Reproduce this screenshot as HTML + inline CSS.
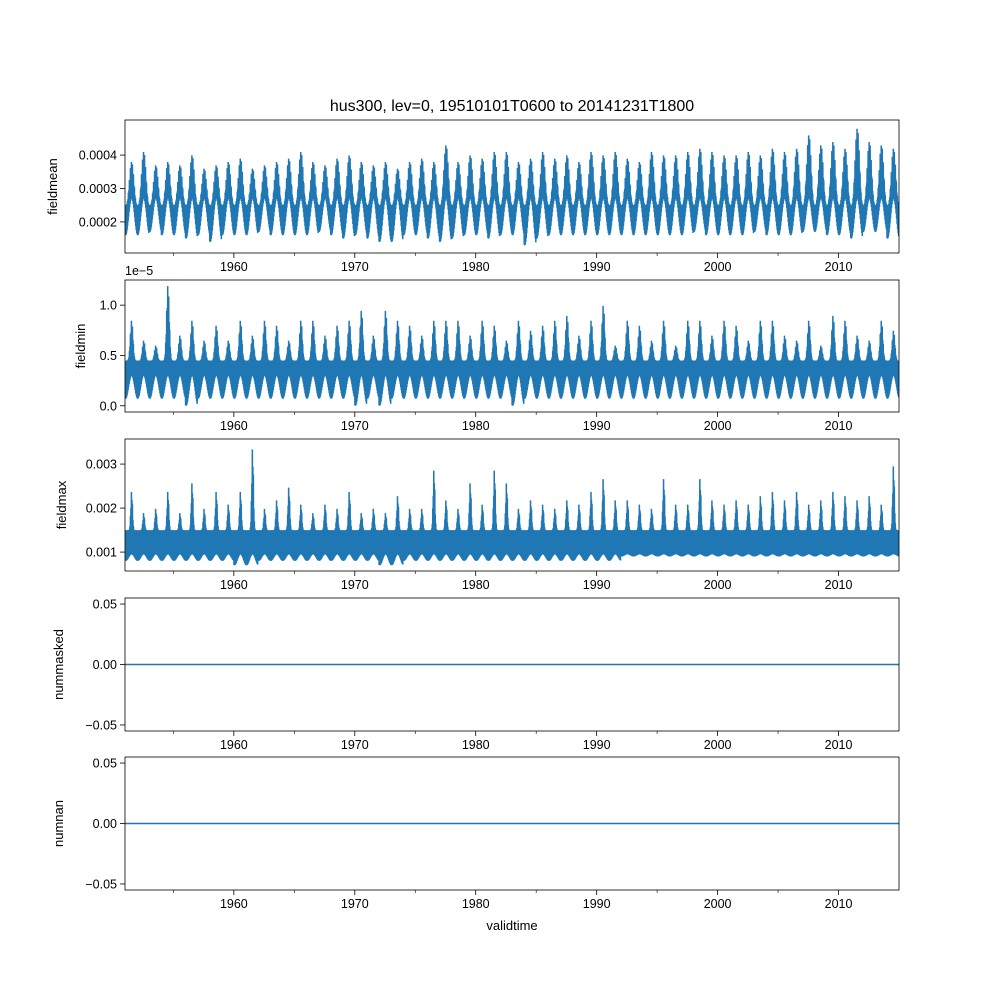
<!DOCTYPE html>
<html><head><meta charset="utf-8"><style>
body{margin:0;background:#fff;}
svg{display:block;font-family:"Liberation Sans","DejaVu Sans",sans-serif;}
</style></head><body>
<svg id="fig" width="1000" height="1000" viewBox="0 0 1000 1000">
<text x="512" y="111" font-size="16" text-anchor="middle">hus300, lev=0, 19510101T0600 to 20141231T1800</text>
<text x="512" y="930" font-size="13" text-anchor="middle">validtime</text>
</svg>
<script>
// ---- data ----
const years = [];
for (let y = 1951; y <= 2014; y++) years.push(y);
const xTicks = [1960, 1970, 1980, 1990, 2000, 2010];
const xMinorTicks = [1955, 1965, 1975, 1985, 1995, 2005];

const meanPeak = [0.00038,0.00041,0.00037,0.00038,0.00037,0.00040,0.00036,0.00037,0.00038,0.00039,0.00036,0.00037,0.00038,0.00039,0.00041,0.00038,0.00037,0.00039,0.00040,0.00038,0.00037,0.00038,0.00036,0.00038,0.00039,0.00038,0.00043,0.00038,0.00040,0.00039,0.00041,0.00041,0.00038,0.00039,0.00041,0.00039,0.00040,0.00038,0.00041,0.00040,0.00041,0.00039,0.00038,0.00041,0.00040,0.00040,0.00041,0.00042,0.00041,0.00040,0.00040,0.00041,0.00040,0.00042,0.00041,0.00042,0.00046,0.00043,0.00044,0.00042,0.00048,0.00044,0.00043,0.00042];
const meanTrough = [0.00016,0.00016,0.00017,0.00016,0.00016,0.00015,0.00016,0.00014,0.00016,0.00016,0.00016,0.00017,0.00016,0.00016,0.00016,0.00016,0.00017,0.00016,0.00015,0.00016,0.00015,0.00014,0.00014,0.00016,0.00016,0.00015,0.00014,0.00015,0.00016,0.00016,0.00015,0.00016,0.00016,0.00013,0.00015,0.00016,0.00016,0.00016,0.00016,0.00016,0.00016,0.00016,0.00016,0.00016,0.00016,0.00016,0.00016,0.00017,0.00016,0.00016,0.00016,0.00016,0.00017,0.00016,0.00016,0.00016,0.00017,0.00017,0.00016,0.00016,0.00015,0.00017,0.00017,0.00015];
const meanBase = [0.00027, 0.00025];

const minPeak = [0.85,0.65,0.6,1.2,0.7,0.85,0.65,0.8,0.65,0.85,0.7,0.85,0.8,0.65,0.85,0.85,0.7,0.8,0.85,0.95,0.7,0.95,0.85,0.8,0.7,0.85,0.85,0.85,0.7,0.85,0.8,0.65,0.85,0.75,0.8,0.85,0.9,0.7,0.85,1.0,0.6,0.85,0.8,0.65,0.85,0.6,0.85,0.85,0.7,0.85,0.8,0.65,0.85,0.85,0.7,0.65,0.85,0.6,0.9,0.85,0.7,0.65,0.85,0.75];
const minTrough = [0.07,0.07,0.07,0.07,0.07,0.0,0.07,0.07,0.07,0.07,0.07,0.07,0.07,0.07,0.07,0.07,0.07,0.07,0.07,0.0,0.07,0.0,0.07,0.07,0.07,0.07,0.07,0.07,0.07,0.07,0.07,0.07,0.0,0.07,0.07,0.07,0.07,0.07,0.07,0.07,0.07,0.07,0.07,0.07,0.07,0.07,0.07,0.07,0.07,0.07,0.07,0.07,0.07,0.07,0.07,0.07,0.07,0.07,0.07,0.07,0.07,0.07,0.07,0.07];
const minBase = [0.3, 0.45];

const maxPeak = [0.0024,0.0019,0.0020,0.0024,0.0019,0.0026,0.0020,0.0024,0.0021,0.0024,0.0034,0.0020,0.0022,0.0025,0.0021,0.0019,0.0021,0.0020,0.0024,0.0019,0.0020,0.0019,0.0023,0.0020,0.0020,0.0029,0.0022,0.0020,0.0026,0.0021,0.0029,0.0026,0.0020,0.0022,0.0021,0.0020,0.0022,0.0021,0.0024,0.0027,0.0022,0.0022,0.0021,0.0020,0.0027,0.0021,0.0021,0.0027,0.0022,0.0021,0.0022,0.0021,0.0023,0.0024,0.0022,0.0024,0.0021,0.0022,0.0024,0.0023,0.0022,0.0023,0.0021,0.0030];
const maxTrough = [0.0008,0.0008,0.0008,0.0008,0.0008,0.0008,0.0008,0.0008,0.0008,0.0007,0.0007,0.0008,0.0008,0.0008,0.0008,0.0008,0.0008,0.0008,0.0008,0.0008,0.0008,0.0007,0.0007,0.0008,0.0008,0.0008,0.0008,0.0008,0.0008,0.0008,0.0008,0.0008,0.0008,0.0008,0.0008,0.0008,0.0008,0.0008,0.0008,0.0008,0.0008,0.0009,0.0009,0.0009,0.0009,0.0009,0.0009,0.0009,0.0009,0.0009,0.0009,0.0009,0.0009,0.0009,0.0009,0.0009,0.0009,0.0009,0.0009,0.0009,0.0009,0.0009,0.0009,0.0009];
const maxBase = [0.00095, 0.0015];

const maskedValues = [0, 0];
const nanValues = [0, 0];

// ---- layout ----
const NS = "http://www.w3.org/2000/svg";
const svg = document.getElementById('fig');
const L = 125, R = 899, X0 = 1951, X1 = 2015;
const xs = v => L + (v - X0) / (X1 - X0) * (R - L);
const C = '#1f77b4';

function el(tag, attrs, parent) {
  const e = document.createElementNS(NS, tag);
  for (const k in attrs) e.setAttribute(k, attrs[k]);
  (parent || svg).appendChild(e);
  return e;
}

const panels = [
  {name:'fieldmean', top:120, bot:253, ymin:0.000107, ymax:0.000505, ticks:[0.0002,0.0003,0.0004], fmt:v=>v.toFixed(4), peak:meanPeak, trough:meanTrough, base:meanBase, sharp:1.5, lx:57},
  {name:'fieldmin', top:280, bot:412, ymin:-0.062, ymax:1.25, ticks:[0,0.5,1.0], fmt:v=>v.toFixed(1), peak:minPeak, trough:minTrough, base:minBase, sharp:4, offset:'1e\u22125', lx:85},
  {name:'fieldmax', top:439, bot:571, ymin:0.00057, ymax:0.00357, ticks:[0.001,0.002,0.003], fmt:v=>v.toFixed(3), peak:maxPeak, trough:maxTrough, base:maxBase, sharp:10, lx:66},
  {name:'nummasked', top:598, bot:731, ymin:-0.055, ymax:0.055, ticks:[-0.05,0,0.05], fmt:v=>v.toFixed(2).replace('-','\u2212'), flat:maskedValues, lx:63},
  {name:'numnan', top:757, bot:890, ymin:-0.055, ymax:0.055, ticks:[-0.05,0,0.05], fmt:v=>v.toFixed(2).replace('-','\u2212'), flat:nanValues, lx:63}
];

panels.forEach(p => {
  const g = el('g', {});
  
  
  const ys = v => p.bot - (v - p.ymin) / (p.ymax - p.ymin) * (p.bot - p.top);
  const clipId = 'clip-' + p.name;
  const cp = el('clipPath', {id: clipId}, g);
  el('rect', {x: L, y: p.top, width: R - L, height: p.bot - p.top}, cp);

  let d = '';
  if (p.flat) {
    d = 'M' + xs(X0) + ' ' + ys(p.flat[0]) + 'L' + xs(X1) + ' ' + ys(p.flat[1]);
  } else {
    const N = 48;
    years.forEach((yr, i) => {
      for (let k = 0; k < N; k++) {
        const t = (k + 0.5) / N;
        const s = 0.5 - 0.5 * Math.cos(2 * Math.PI * (t - 0.05));
        const sp = Math.pow(s, p.sharp);
        const lo = p.trough[i] + (p.base[0] - p.trough[i]) * s;
        const hiFull = p.base[1] + (p.peak[i] - p.base[1]) * sp;
        const hi = (k % 4 === 1) ? hiFull : p.base[1] + (hiFull - p.base[1]) * 0.8;
        const v = (k % 2 === 0) ? lo : hi;
        d += (d ? 'L' : 'M') + xs(yr + t).toFixed(2) + ' ' + ys(v).toFixed(2);
      }
    });
  }
  const line = el('path', {d: d, fill: 'none', stroke: C, 'stroke-width': 1.5, 'clip-path': 'url(#' + clipId + ')'}, g);
  
  

  const frame = el('rect', {x: L, y: p.top, width: R - L, height: p.bot - p.top, fill: 'none', stroke: '#000', 'stroke-width': 0.8}, g);
  
  

  xTicks.forEach(t => {
    el('line', {x1: xs(t), x2: xs(t), y1: p.bot, y2: p.bot + 5, stroke: '#000', 'stroke-width': 0.8}, g);
    const tx = el('text', {x: xs(t), y: p.bot + 18, 'font-size': 12.5, 'text-anchor': 'middle'}, g);
    tx.textContent = t;
    
    
  });
  xMinorTicks.forEach(t => {
    el('line', {x1: xs(t), x2: xs(t), y1: p.bot, y2: p.bot + 3, stroke: '#000', 'stroke-width': 0.6}, g);
  });
  p.ticks.forEach(t => {
    const y = ys(t);
    el('line', {x1: L - 5, x2: L, y1: y, y2: y, stroke: '#000', 'stroke-width': 0.8}, g);
    const tx = el('text', {x: L - 8, y: y + 4.5, 'font-size': 12.5, 'text-anchor': 'end'}, g);
    tx.textContent = p.fmt(t);
    
    
  });
  const yl = el('text', {x: 0, y: 0, 'font-size': 13, 'text-anchor': 'middle', transform: 'translate(' + p.lx + ',' + ((p.top + p.bot) / 2) + ') rotate(-90)'}, g);
  yl.textContent = p.name;
  
  
  if (p.offset) {
    const o = el('text', {x: L, y: p.top - 5, 'font-size': 12.5}, g);
    o.textContent = p.offset;
    
    
  }
});
</script>
</body></html>
